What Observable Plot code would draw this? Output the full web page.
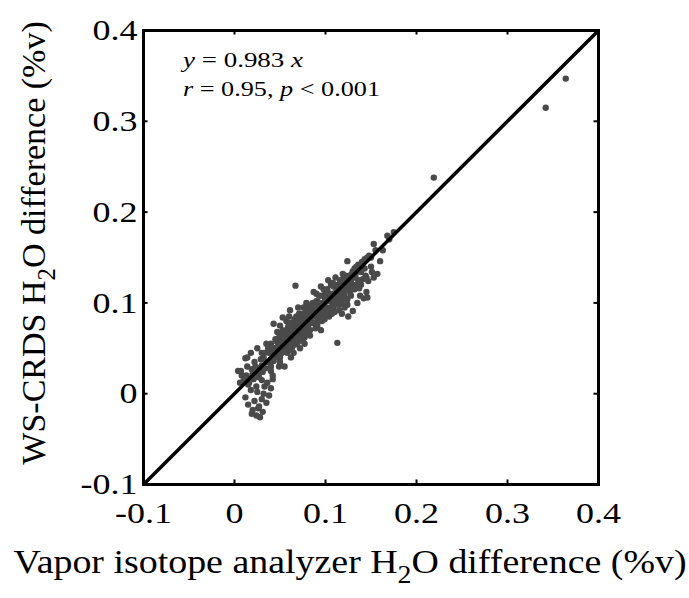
<!DOCTYPE html>
<html>
<head>
<meta charset="utf-8">
<script src="https://cdn.jsdelivr.net/npm/d3@7"></script>
<script src="https://cdn.jsdelivr.net/npm/@observablehq/plot@0.6"></script>
<style>
  html, body { margin: 0; padding: 0; background: #fff; }
  #chart svg { display: block; }
</style>
</head>
<body>
<div id="chart"></div>
<script>
const tickValues = [-0.1, 0, 0.1, 0.2, 0.3, 0.4];
const tickLabels = ["-0.1", "0", "0.1", "0.2", "0.3", "0.4"];
const fitLineX = [-0.1, 0.4];
const fitLineY = [-0.1, 0.4];

const vaporX = [
  0.012,0.015,0.018,0.020,0.022,0.024,0.025,0.027,0.028,0.030,0.031,0.033,0.035,0.036,0.038,0.040,0.042,0.019,0.026,0.032,
  0.004,0.012,0.006,0.008,0.014,0.018,0.020,0.015,0.022,0.025,0.028,0.030,0.032,0.035,0.024,0.040,0.042,0.038,0.045,0.027,
  0.045,0.048,0.050,0.052,0.055,0.058,0.060,0.062,0.064,0.066,0.068,0.070,0.072,0.074,0.076,0.078,0.080,0.050,0.055,0.060,0.065,0.070,0.075,0.047,0.053,0.057,0.063,0.067,0.073,0.077,0.079,0.044,0.049,0.058,0.061,0.067,0.069,0.071,0.076,0.079,0.052,0.056,0.059,0.064,0.066,0.072,0.074,0.078,
  0.082,0.084,0.086,0.088,0.090,0.092,0.094,0.096,0.098,0.100,0.102,0.104,0.106,0.108,0.110,0.112,0.114,0.116,0.118,0.120,0.122,0.124,0.126,0.128,0.130,0.083,0.087,0.091,0.095,0.099,0.103,0.107,0.111,0.113,0.115,0.119,0.121,0.125,0.129,0.085,0.089,0.093,0.097,0.101,0.105,0.109,0.117,0.123,0.127,0.081,0.095,0.105,0.118,
  0.132,0.134,0.136,0.138,0.140,0.142,0.144,0.146,0.147,0.150,0.153,0.157,0.160,0.163,0.168,0.135,0.139,0.145,0.133,0.143,0.170,0.175,
  0.219,0.342,0.364,
  0.020,0.030,0.040,0.050,0.060,0.070,0.080,0.090,0.100,0.110,0.120,0.130,0.035,0.045,0.055,0.065,0.075,0.085,0.095,0.105,0.115,0.125,0.015,0.025,0.140,0.150,
  0.030,0.040,0.050,0.060,0.070,0.080,0.090,0.100,0.110,0.120,
  0.040,0.050,0.060,0.070,0.080,0.090,0.100,0.110,0.120,
  0.010,0.013,0.016,0.019,0.021,0.023,0.026,0.029,0.031,0.033,0.034,0.037,0.039,0.041,0.043,0.046,0.047,0.049,0.051,0.053,
  0.054,0.056,0.057,0.059,0.061,0.062,0.063,0.065,0.066,0.068,0.069,0.071,0.072,0.073,0.075,0.076,0.077,0.079,0.081,0.082,
  0.083,0.085,0.086,0.087,0.089,0.091,0.092,0.093,0.095,0.096,0.097,0.099,0.101,0.102,0.103,0.105,0.106,0.108,0.109,0.111,
  0.112,0.114,0.115,0.117,0.118,0.120,0.121,0.123,0.124,0.126,0.127,0.129,0.131,0.132,0.134,0.136,0.137,0.139,0.141,0.143,
  0.145,0.148,0.151,0.155,0.146,0.153,0.130,0.124,0.043,0.053,0.014,0.007,
  0.060,0.064,0.070,0.074,0.078,0.084,0.088,0.094,0.098,0.104,0.108,0.113,0.119,0.122,0.128,0.133,
  0.044,0.048,0.052,0.056,0.058,0.062,0.067,0.071
];
const crdsY = [
  -0.004,-0.012,0.004,-0.018,-0.008,-0.024,0.002,-0.014,-0.026,-0.006,-0.020,0.008,-0.010,0.012,-0.002,0.006,0.016,-0.022,-0.016,0.000,
  0.025,0.039,0.012,0.020,0.030,0.045,0.020,0.010,0.035,0.050,0.028,0.015,0.040,0.055,0.008,0.030,0.020,0.045,0.060,0.018,
  0.040,0.055,0.035,0.065,0.048,0.070,0.055,0.040,0.075,0.060,0.085,0.065,0.050,0.080,0.070,0.090,0.075,0.075,0.030,0.085,0.045,0.095,0.058,0.068,0.058,0.080,0.065,0.072,0.088,0.062,0.100,0.050,0.030,0.045,0.092,0.119,0.055,0.078,0.095,0.082,0.048,0.062,0.052,0.058,0.082,0.070,0.064,0.072,
  0.095,0.080,0.100,0.085,0.110,0.090,0.100,0.080,0.115,0.095,0.105,0.085,0.120,0.100,0.090,0.115,0.105,0.125,0.100,0.112,0.130,0.098,0.118,0.108,0.135,0.070,0.112,0.075,0.118,0.082,0.125,0.088,0.128,0.056,0.092,0.132,0.095,0.085,0.120,0.090,0.098,0.108,0.092,0.088,0.110,0.118,0.110,0.115,0.128,0.085,0.070,0.095,0.088,
  0.115,0.140,0.125,0.108,0.145,0.105,0.130,0.150,0.124,0.140,0.165,0.132,0.146,0.158,0.174,0.100,0.120,0.112,0.128,0.138,0.170,0.178,
  0.238,0.315,0.347,
  0.022,0.031,0.038,0.052,0.061,0.069,0.081,0.089,0.101,0.108,0.121,0.128,0.035,0.047,0.054,0.066,0.074,0.086,0.094,0.104,0.116,0.123,0.017,0.024,0.137,0.150,
  0.045,0.055,0.062,0.072,0.082,0.092,0.102,0.112,0.120,0.128,
  0.025,0.040,0.048,0.058,0.068,0.078,0.088,0.098,0.105,
  0.014,0.020,0.012,0.027,0.016,0.030,0.021,0.038,0.024,0.045,0.028,0.050,0.034,0.048,0.036,0.058,0.042,0.062,0.044,0.070,
  0.052,0.066,0.046,0.074,0.056,0.078,0.050,0.072,0.054,0.078,0.062,0.088,0.064,0.078,0.066,0.086,0.055,0.092,0.074,0.088,
  0.064,0.098,0.078,0.094,0.072,0.102,0.082,0.096,0.086,0.108,0.084,0.106,0.094,0.115,0.090,0.102,0.094,0.122,0.096,0.106,
  0.100,0.120,0.098,0.118,0.104,0.125,0.108,0.124,0.104,0.130,0.112,0.132,0.118,0.138,0.120,0.142,0.116,0.134,0.126,0.148,
  0.128,0.152,0.134,0.158,0.106,0.128,0.091,0.146,0.077,0.084,0.040,0.025,
  0.068,0.068,0.074,0.082,0.078,0.084,0.092,0.096,0.100,0.108,0.110,0.112,0.116,0.120,0.124,0.132,
  0.044,0.050,0.056,0.058,0.060,0.064,0.070,0.072
];

const points = vaporX.map((x, i) => ({x, y: crdsY[i]}));
const fitLine = fitLineX.map((x, i) => ({x, y: fitLineY[i]}));
const tx = tickValues.map((v, i) => ({v, label: tickLabels[i]}));
const fmt = d => tickLabels[tickValues.indexOf(d)] ?? String(d);
const font = "'Liberation Serif', 'Times New Roman', serif";

const chart = Plot.plot({
  width: 689,
  height: 598,
  marginLeft: 143,
  marginRight: 91,
  marginTop: 30,
  marginBottom: 114,
  style: {fontFamily: font, fontSize: "30px", color: "#000", background: "#fff"},
  x: {domain: [-0.1, 0.4]},
  y: {domain: [-0.1, 0.4]},
  marks: [
    Plot.dot(points, {x: "x", y: "y", r: 3.2, fill: "#4a4a4a", stroke: "none"}),
    Plot.line(fitLine, {x: "x", y: "y", stroke: "#000", strokeWidth: 3.5, clip: true}),
    Plot.ruleX(tx, {x: "v", y1: -0.1, y2: -0.095, stroke: "#000", strokeWidth: 2}),
    Plot.ruleX(tx, {x: "v", y1: 0.395, y2: 0.4, stroke: "#000", strokeWidth: 2}),
    Plot.ruleY(tx, {y: "v", x1: -0.1, x2: -0.095, stroke: "#000", strokeWidth: 2}),
    Plot.ruleY(tx, {y: "v", x1: 0.395, x2: 0.4, stroke: "#000", strokeWidth: 2}),
    Plot.frame({stroke: "#000", strokeWidth: 3}),
    Plot.axisX({ticks: tickValues, tickFormat: fmt, tickSize: 0, tickPadding: 17, label: null, fontSize: 30}),
    Plot.axisY({ticks: tickValues, tickFormat: fmt, tickSize: 0, tickPadding: 6, label: null, fontSize: 30})
  ]
});

document.getElementById("chart").appendChild(chart);

const svg = d3.select(chart);
const sx = chart.scale("x"), sy = chart.scale("y");

// widen tick labels (the reference is horizontally stretched)
svg.selectAll('[aria-label="x-axis tick label"] text, [aria-label="y-axis tick label"] text').each(function () {
  const w = this.getComputedTextLength();
  this.setAttribute("textLength", w * 1.2);
  this.setAttribute("lengthAdjust", "spacingAndGlyphs");
});

// annotation
const ann = svg.append("g").attr("font-family", font).attr("font-size", 22).attr("fill", "#000").attr("text-anchor", "start");
const a1 = ann.append("text").attr("x", sx.apply(-0.056)).attr("y", 67)
  .attr("textLength", 120).attr("lengthAdjust", "spacingAndGlyphs");
a1.append("tspan").attr("font-style", "italic").text("y");
a1.append("tspan").text(" = 0.983 ");
a1.append("tspan").attr("font-style", "italic").text("x");
const a2 = ann.append("text").attr("x", sx.apply(-0.056)).attr("y", 96)
  .attr("textLength", 197).attr("lengthAdjust", "spacingAndGlyphs");
a2.append("tspan").attr("font-style", "italic").text("r");
a2.append("tspan").text(" = 0.95, ");
a2.append("tspan").attr("font-style", "italic").text("p");
a2.append("tspan").text(" < 0.001");

// x axis label
const xl = svg.append("text").attr("font-family", font).attr("font-size", 34).attr("fill", "#000")
  .attr("text-anchor", "middle").attr("transform", "translate(350,573) scale(1.115,1)");
xl.append("tspan").text("Vapor isotope analyzer H");
xl.append("tspan").attr("font-size", 25).attr("dy", 10).text("2");
xl.append("tspan").attr("dy", -10).text("O difference (%v)");

// y axis label
const yl = svg.append("text").attr("font-family", font).attr("font-size", 34).attr("fill", "#000")
  .attr("text-anchor", "middle").attr("transform", "translate(45,243) rotate(-90)");
yl.append("tspan").text("WS-CRDS H");
yl.append("tspan").attr("font-size", 25).attr("dy", 10).text("2");
yl.append("tspan").attr("dy", -10).text("O difference (%v)");
</script>
</body>
</html>
